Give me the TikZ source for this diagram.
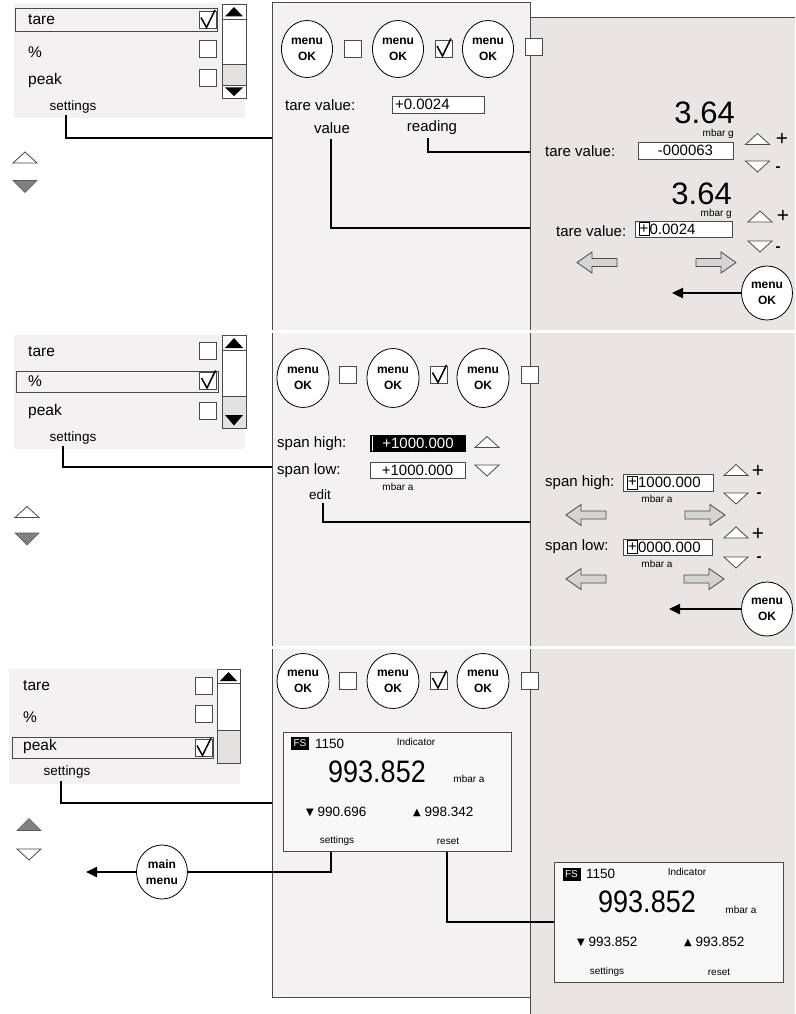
\documentclass[tikz,border=0pt]{standalone}
\usepackage{fontspec}
\setmainfont{Liberation Sans}
\newfontfamily\symf{DejaVu Sans}
\usepackage{graphicx}
\usetikzlibrary{arrows.meta,shapes.geometric}
\definecolor{panelA}{HTML}{F3F1F1}
\definecolor{panelB}{HTML}{E8E5E4}
\definecolor{edgec}{HTML}{4A4A4A}
\definecolor{thumbc}{HTML}{E4E2E1}
\definecolor{arrc}{HTML}{D4D4D4}
\definecolor{trig}{HTML}{808080}
\newcommand\Fz[1]{\fontsize{#1}{#1}\selectfont}
\newcommand\DnT{\raisebox{1.5pt}{\symf\Fz{10}▼}}
\newcommand\UpT{\raisebox{1.5pt}{\symf\Fz{10}▲}}
\begin{document}
\begin{tikzpicture}[x=1pt,y=-1pt,
  txt/.style={inner sep=0pt, anchor=west, font=\Fz{15}},
  itm/.style={inner sep=0pt, anchor=west, font=\Fz{15.5}},
  lbl/.style={inner sep=0pt, font=\Fz{13.5}},
  tny/.style={inner sep=0pt, font=\Fz{10}},
  big/.style={inner sep=0pt, font=\Fz{31}, text depth=0pt},
  chk/.style={draw=edgec, fill=white, line width=0.8pt, minimum size=17pt, inner sep=0pt},
  btn/.style={ellipse, draw=black, line width=0.8pt, fill=white, minimum width=51pt, minimum height=57pt, inner sep=0pt, align=center, font=\bfseries\fontsize{12}{16}\selectfont},
  vbox/.style={draw=edgec, fill=white, line width=0.8pt, inner sep=0pt, minimum height=17pt, font=\Fz{15}},
  curbox/.style={draw=black, line width=0.8pt, minimum width=10pt, minimum height=13pt, inner sep=0pt, font=\Fz{15}},
  wire/.style={line width=2.8pt, black},
  okarr/.style={line width=2.4pt, -{Triangle[length=11pt,width=10pt]}},
  hl/.style={draw=edgec, line width=1pt},
  lcd/.style={draw=edgec, fill=panelA!50!white, line width=1pt, inner sep=0pt},
  fsbox/.style={fill=black, text=white, font=\Fz{10}, minimum width=18pt, minimum height=13.5pt, inner sep=0pt},
  pm/.style={inner sep=0pt, font=\Fz{21}},
  mn/.style={inner sep=0pt, font=\bfseries\Fz{15}},
  uptri/.pic={\draw[edgec, fill=white, line width=0.8pt] (-12,5.5) -- (12,5.5) -- (0,-5.5) -- cycle;},
  dntri/.pic={\draw[edgec, fill=white, line width=0.8pt] (-12,-5.5) -- (12,-5.5) -- (0,5.5) -- cycle;},
  uptrig/.pic={\draw[trig!70!black, fill=trig, line width=0.6pt] (-12,6) -- (12,6) -- (0,-6) -- cycle;},
  dntrig/.pic={\draw[trig!70!black, fill=trig, line width=0.6pt] (-12,-6) -- (12,-6) -- (0,6) -- cycle;},
  larr/.pic={\draw[edgec, fill=arrc, line width=0.8pt] (0,0) -- (15,-10.5) -- (15,-4) -- (40,-4) -- (40,4) -- (15,4) -- (15,10.5) -- cycle;},
  rarr/.pic={\draw[edgec, fill=arrc, line width=0.8pt] (0,0) -- (-15,-10.5) -- (-15,-4) -- (-40,-4) -- (-40,4) -- (-15,4) -- (-15,10.5) -- cycle;},
  tick/.pic={\draw[black, line width=1.5pt, line join=miter] (-6.5,-2.5) -- (-1,7.5) -- (7.5,-10);}
]
\useasboundingbox (0,0) rectangle (795,1014);

% ---------- panels ----------
\fill[panelB] (530,18) rectangle (795,1014);
\draw[edgec, line width=1pt] (795,18) -- (530,18) -- (530,1014);
\draw[edgec, fill=panelA, line width=1pt] (272,3) rectangle (530,997);
\fill[white] (270,330) rectangle (795,333);
\fill[white] (270,646) rectangle (795,649);

% ================= SECTION 1 =================
\fill[panelA] (14,3) rectangle (245,118);
\draw[hl] (15,9) rectangle (217,32);
\node[itm] (l1a) at (28,20) {tare};
\node[itm] (l1b) at (28,52) {\%};
\node[itm] (l1c) at (28,80) {peak};
\node[chk] (k1a) at (207.5,20) {}; \pic at (k1a) {tick};
\node[chk] (k1b) at (207.5,48.5) {};
\node[chk] (k1c) at (207.5,77.5) {};
% scrollbar
\draw[edgec, fill=white, line width=0.9pt] (222,4) rectangle (246,98);
\fill[thumbc] (222,64) rectangle (246,85);
\draw[edgec, line width=0.9pt] (222,19) -- (246,19) (222,64) -- (246,64) (222,85) -- (246,85);
\draw[edgec, line width=0.9pt] (222,4) rectangle (246,98);
\fill[black] (225,16.5) -- (243,16.5) -- (234,7) -- cycle;
\fill[black] (225,87.5) -- (243,87.5) -- (234,96) -- cycle;
\node[lbl] (set1) at (73,107) {settings};
\pic at (25,157.5) {uptri};
\pic at (25,186.5) {dntrig};

% middle
\node[btn] (b1a) at (307,49) {menu\\OK};
\node[chk] (c1a) at (352.5,48.5) {};
\node[btn] (b1b) at (398,49) {menu\\OK};
\node[chk] (c1b) at (443.5,48.5) {}; \pic at (c1b) {tick};
\node[btn] (b1c) at (488,49) {menu\\OK};
\node[chk] (c1c) at (533.5,47) {};
\node[txt] (tvl1) at (285,105) {tare value:};
\node[vbox, minimum width=92pt, text width=86pt, inner xsep=3pt, align=left] (tv1) at (438,104.5) {+0.0024};
\node[inner sep=0pt, font=\Fz{15}] (val1) at (332,128) {value};
\node[inner sep=0pt, font=\Fz{15}] (rd1) at (432,128) {reading};
\coordinate (m1in) at (272,138);
\coordinate (r1a) at (530,152);
\coordinate (r1b) at (530,228);
\draw[wire] ([xshift=-7pt,yshift=-2pt]set1.south) |- (m1in);
\draw[wire] ([xshift=-4pt,yshift=-3pt]rd1.south) |- (r1a);
\draw[wire] ([xshift=-1pt,yshift=-5pt]val1.south) |- (r1b);

% right
\node[big, anchor=base east] (n1a) at (735,124) {3.64};
\node[tny, anchor=east] (u1a) at (734,134) {mbar g};
\node[txt] (tvl2) at (545,151) {tare value:};
\node[vbox, minimum width=95pt] (tv2) at (685.5,150.5) {-000063};
\pic at (757.5,139) {uptri};
\node[pm] (p1a) at (782,139) {+};
\pic at (757.5,166.5) {dntri};
\node[mn] (q1a) at (778,169) {-};
\node[big, anchor=base east] (n1b) at (732,204) {3.64};
\node[tny, anchor=east] (u1b) at (732,214) {mbar g};
\node[txt] (tvl3) at (556,231) {tare value:};
\node[vbox, minimum width=97pt, minimum height=16pt] (tv3) at (683.5,229) {};
\node[curbox] (cur1) at (644,229) {+};
\node[txt] (tv3t) at (cur1.east) {0.0024};
\pic at (760,216.5) {uptri};
\node[pm] (p1b) at (783,216) {+};
\pic at (760,246.5) {dntri};
\node[mn] (q1b) at (778,249) {-};
\pic at (577,262.5) {larr};
\pic at (736,262.5) {rarr};
\node[btn, minimum height=54pt] (ok1) at (767,293) {menu\\OK};
\coordinate (a1end) at (672,293);
\draw[okarr] (ok1.west) -- (a1end);

% ================= SECTION 2 =================
\fill[panelA] (14,335) rectangle (245,449);
\draw[hl] (16,371) rectangle (218,392);
\node[itm] (l2a) at (28,352) {tare};
\node[itm] (l2b) at (28,381.5) {\%};
\node[itm] (l2c) at (28,411) {peak};
\node[chk] (k2a) at (208,351) {};
\node[chk] (k2b) at (208,380.5) {}; \pic at (k2b) {tick};
\node[chk] (k2c) at (208,410.5) {};
\draw[edgec, fill=white, line width=0.9pt] (222,335) rectangle (246,428);
\fill[thumbc] (222,396) rectangle (246,428);
\draw[edgec, line width=0.9pt] (222,350) -- (246,350) (222,396) -- (246,396);
\draw[edgec, line width=0.9pt] (222,335) rectangle (246,428);
\fill[black] (225,348) -- (243,348) -- (234,338) -- cycle;
\fill[black] (225,415) -- (243,415) -- (234,425.5) -- cycle;
\node[lbl] (set2) at (73,438) {settings};
\pic at (27,512) {uptri};
\pic at (27,539) {dntrig};
\coordinate (m2in) at (272,467);
\draw[wire] ([xshift=-10pt,yshift=-2pt]set2.south) |- (m2in);

% middle
\node[btn, minimum width=52pt, minimum height=59pt] (b2a) at (303,378) {menu\\OK};
\node[chk] (c2a) at (348,375) {};
\node[btn, minimum width=52pt, minimum height=59pt] (b2b) at (393,378) {menu\\OK};
\node[chk] (c2b) at (439,375) {}; \pic at (c2b) {tick};
\node[btn, minimum width=52pt, minimum height=59pt] (b2c) at (483,378) {menu\\OK};
\node[chk] (c2c) at (529.5,375) {};
\node[txt] (sh1) at (277,444) {span high:};
\node[fill=black, text=white, minimum width=96pt, minimum height=17pt, inner sep=0pt, font=\Fz{15}] (shv) at (418,443.5) {+1000.000};
\draw[white, line width=0.8pt] (372.5,436) -- (372.5,451);
\pic at (487,442) {uptri};
\node[txt] (sl1) at (277,471) {span low:};
\node[vbox, minimum width=95pt, minimum height=16pt] (slv) at (417.5,470) {+1000.000};
\pic at (487,470.5) {dntri};
\node[tny] (u2a) at (398,487) {mbar a};
\node[lbl] (ed) at (320,495) {edit};
\coordinate (r2a) at (530,522);
\draw[wire] ([xshift=3pt,yshift=-3pt]ed.south) |- (r2a);

% right
\node[txt] (sh2) at (545,483) {span high:};
\node[vbox, minimum width=90pt] (shb) at (668,482.5) {};
\node[curbox] (cur2) at (632.5,482.5) {+};
\node[txt] (sh2t) at (cur2.east) {1000.000};
\node[tny] (u2b) at (657,499) {mbar a};
\pic at (736,470) {uptri};
\node[pm] (p2a) at (758,471) {+};
\pic at (736,498.5) {dntri};
\node[mn] (q2a) at (759,495) {-};
\pic at (566,515) {larr};
\pic at (725,515) {rarr};
\pic at (736,532.5) {uptri};
\node[pm] (p2b) at (758,534) {+};
\node[txt] (sl2) at (545,547) {span low:};
\node[vbox, minimum width=89pt, minimum height=16pt] (slb) at (667.5,547) {};
\node[curbox] (cur3) at (632.5,547) {+};
\node[txt] (sl2t) at (cur3.east) {0000.000};
\node[tny] (u2c) at (657,564) {mbar a};
\pic at (736,562.5) {dntri};
\node[mn] (q2b) at (759,559) {-};
\pic at (566,579) {larr};
\pic at (724,579) {rarr};
\node[btn, minimum height=54pt] (ok2) at (767,609) {menu\\OK};
\coordinate (a2end) at (669,609);
\draw[okarr] (ok2.west) -- (a2end);

% ================= SECTION 3 =================
\fill[panelA] (9,669) rectangle (240,784);
\draw[hl] (12,737) rectangle (213,758);
\node[itm] (l3a) at (23,686) {tare};
\node[itm] (l3b) at (23,717) {\%};
\node[itm] (l3c) at (23,746) {peak};
\node[chk] (k3a) at (203.5,685.5) {};
\node[chk] (k3b) at (203.5,714) {};
\node[chk] (k3c) at (203.5,748) {}; \pic at (k3c) {tick};
\draw[edgec, fill=white, line width=0.9pt] (217,669) rectangle (240,763);
\fill[thumbc] (217,730) rectangle (240,763);
\draw[edgec, line width=0.9pt] (217,683) -- (240,683) (217,730) -- (240,730);
\draw[edgec, line width=0.9pt] (217,669) rectangle (240,763);
\fill[black] (220,681) -- (237,681) -- (228.5,672) -- cycle;
\node[lbl] (set3) at (67,772) {settings};
\pic at (29,824.5) {uptrig};
\pic at (29,854.5) {dntri};
\coordinate (m3in) at (272,803);
\draw[wire] ([xshift=-6pt,yshift=-2pt]set3.south) |- (m3in);

% middle
\node[btn, minimum width=52pt, minimum height=55pt] (b3a) at (303,681) {menu\\OK};
\node[chk] (c3a) at (348,680.5) {};
\node[btn, minimum width=52pt, minimum height=55pt] (b3b) at (393,681) {menu\\OK};
\node[chk] (c3b) at (439,680.5) {}; \pic at (c3b) {tick};
\node[btn, minimum width=52pt, minimum height=55pt] (b3c) at (483,681) {menu\\OK};
\node[chk] (c3c) at (529.5,680.5) {};

\node[lcd, minimum width=228pt, minimum height=119pt] (lcd1) at (397,791.5) {};
\node[fsbox] (fs1) at (300,743.5) {FS};
\node[inner sep=0pt, anchor=west, font=\Fz{13.5}] (id1) at (315,744) {1150};
\node[tny] (ind1) at (416,742) {Indicator};
\node[inner sep=0pt, font=\Fz{27}] (rd3) at (377,772) {\scalebox{1}[1.15]{993.852}};
\node[tny] (u3a) at (469,779) {mbar a};
\node[inner sep=0pt, anchor=west, font=\Fz{13.5}] (mn1) at (306,812) {\DnT\ 990.696};
\node[inner sep=0pt, anchor=west, font=\Fz{13.5}] (mx1) at (413,812) {\UpT\ 998.342};
\node[tny] (ls1) at (337,841) {settings};
\node[tny] (rs1) at (448,841) {reset};

\node[btn, minimum height=54pt] (mm) at (162,872) {main\\menu};
\coordinate (mmend) at (86,872);
\draw[okarr] (mm.west) -- (mmend);
\draw[wire] ([xshift=-6pt]ls1.south |- lcd1.south) |- (mm.east);

% right
\node[lcd, minimum width=229pt, minimum height=120pt] (lcd2) at (668.5,922) {};
\node[fsbox] (fs2) at (571.5,874.5) {FS};
\node[inner sep=0pt, anchor=west, font=\Fz{13.5}] (id2) at (586,874) {1150};
\node[tny] (ind2) at (687,872) {Indicator};
\node[inner sep=0pt, font=\Fz{27}] (rd4) at (647,902) {\scalebox{1}[1.15]{993.852}};
\node[tny] (u3b) at (741,910) {mbar a};
\node[inner sep=0pt, anchor=west, font=\Fz{13.5}] (mn2) at (577,942) {\DnT\ 993.852};
\node[inner sep=0pt, anchor=west, font=\Fz{13.5}] (mx2) at (684,942) {\UpT\ 993.852};
\node[tny] (ls2) at (607,972) {settings};
\node[tny] (rs2) at (719,972) {reset};

\draw[wire] ([xshift=-1pt]rs1.south |- lcd1.south) |- (lcd2.west);
\end{tikzpicture}
\end{document}
